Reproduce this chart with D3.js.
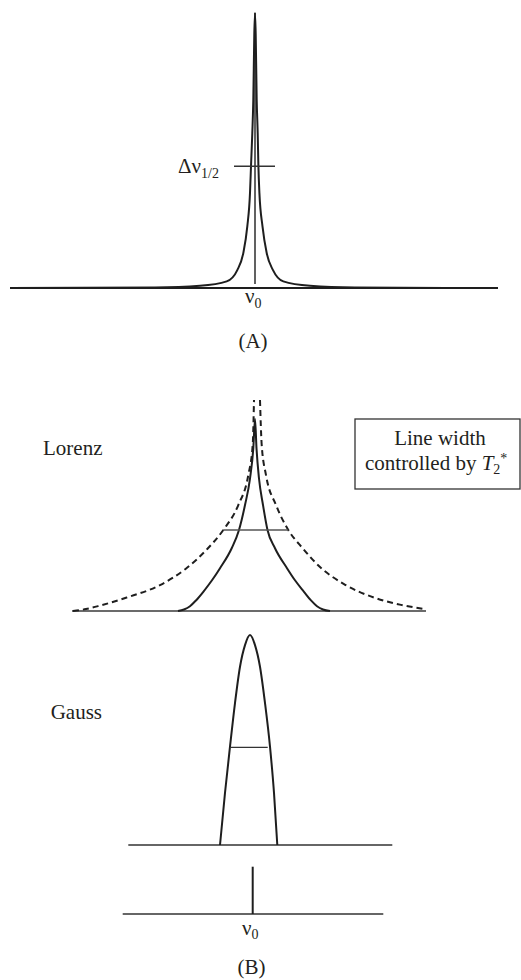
<!DOCTYPE html>
<html>
<head>
<meta charset="utf-8">
<script src="https://cdn.jsdelivr.net/npm/d3@7/dist/d3.min.js"></script>
<style>
  html, body { margin: 0; padding: 0; background: #fff; }
  svg { display: block; }
</style>
</head>
<body>
<script>
// (A) single narrow Lorentzian line: frequency offset from ν0, relative intensity
const narrowOffset    = [-245, -100, -55, -28.3, -17.7, -11.7, -7.7, -5, -4, -2.7, -1.7, -0.7, 0, 0.7, 1.7, 2.7, 3.4, 4.4, 7.5, 11.7, 18, 28.3, 55, 100, 243];
const narrowIntensity = [0, 0.002, 0.008, 0.024, 0.065, 0.127, 0.224, 0.346, 0.443, 0.563, 0.684, 0.924, 1, 0.924, 0.684, 0.563, 0.443, 0.346, 0.224, 0.127, 0.065, 0.024, 0.008, 0.002, 0];
const narrowHalfLevel = 0.443;
const narrowHalfSpan  = [-21, 20];
const narrowAxis      = [-245, 243];

// (B) Lorenz: narrow line (solid) and broadened line (dashed)
const lorenzOffset    = [-78, -72, -66, -60, -52.7, -44, -36, -24.3, -17, -11, -6, -2.7, -1, 0.5, 3, 7, 11.5, 19, 31, 39, 48, 55, 61, 67, 74];
const lorenzIntensity = [0, 0.008, 0.025, 0.055, 0.1, 0.16, 0.223, 0.327, 0.422, 0.552, 0.69, 0.847, 1, 0.847, 0.69, 0.552, 0.422, 0.327, 0.223, 0.16, 0.1, 0.055, 0.025, 0.008, 0];
const broadLeftOffset     = [-183, -170, -156, -129.3, -96, -69.3, -49.3, -32.7, -17.7, -7.7, -3.3, -2];
const broadLeftIntensity  = [0, 0.01, 0.028, 0.07, 0.135, 0.224, 0.32, 0.422, 0.552, 0.708, 0.865, 1.099];
const broadRightOffset    = [4, 5.7, 10, 20, 32.3, 47, 64, 88, 118, 145, 169];
const broadRightIntensity = [1.099, 0.865, 0.708, 0.552, 0.422, 0.325, 0.229, 0.14, 0.07, 0.032, 0.01];
const lorenzHalfLevel = 0.422;
const lorenzHalfSpan  = [-32.7, 32.3];
const lorenzAxis      = [-184, 170];

// (B) Gauss line
const gaussOffset    = [-30, -25, -20, -15, -10, -5, 0, 5, 10, 15, 20, 24, 27.3];
const gaussIntensity = [0, 0.248, 0.468, 0.676, 0.849, 0.952, 1, 0.952, 0.849, 0.676, 0.468, 0.248, 0];
const gaussHalfLevel = 0.465;
const gaussHalfSpan  = [-19.3, 17.7];
const gaussAxis      = [-121.7, 142.3];

// (B) bottom: single resonance frequency ν0
const stickOffset    = [0];
const stickIntensity = [1];
const stickAxis      = [-130, 130.6];

const W = 521, H = 980;
const ink = "#1e1e1e";
const serif = "'Liberation Serif', 'Times New Roman', Times, 'Noto Serif', 'DejaVu Serif', serif";

const svg = d3.select("body").append("svg")
  .attr("width", W).attr("height", H)
  .attr("viewBox", `0 0 ${W} ${H}`)
  .attr("font-family", serif);

function zip(xs, ys) { return xs.map((x, i) => [x, ys[i]]); }

function label(x, y, size) {
  return svg.append("text")
    .attr("x", x).attr("y", y)
    .attr("font-family", serif)
    .attr("font-size", size)
    .attr("fill", "#231f20");
}

// One spectrum panel: baseline axis plus scales
function panel(opts) {
  const x = d3.scaleLinear().domain(opts.axis).range(opts.xRange);
  const y = d3.scaleLinear().domain([0, 1]).range(opts.yRange);
  const g = svg.append("g");
  const line = d3.line().x(d => x(d[0])).y(d => y(d[1])).curve(d3.curveMonotoneX);

  g.append("line")
    .attr("x1", x(opts.axis[0])).attr("x2", x(opts.axis[1]))
    .attr("y1", y(0)).attr("y2", y(0))
    .attr("stroke", opts.axisColor || "#333").attr("stroke-width", opts.axisWidth || 1.6);
  return { g, x, y, line };
}

// ---- (A) ----
const pA = panel({ axis: narrowAxis, xRange: [10, 498], yRange: [288, 13], axisColor: ink, axisWidth: 2 });
pA.g.append("line")
  .attr("x1", pA.x(0)).attr("x2", pA.x(0))
  .attr("y1", pA.y(1)).attr("y2", pA.y(0.015))
  .attr("stroke", ink).attr("stroke-width", 1.4);
pA.g.append("path")
  .datum(zip(narrowOffset, narrowIntensity))
  .attr("d", pA.line).attr("fill", "none")
  .attr("stroke", ink).attr("stroke-width", 2);
pA.g.append("line")
  .attr("x1", pA.x(narrowHalfSpan[0])).attr("x2", pA.x(narrowHalfSpan[1]))
  .attr("y1", pA.y(narrowHalfLevel)).attr("y2", pA.y(narrowHalfLevel))
  .attr("stroke", "#333").attr("stroke-width", 1.4);

const dl = label(178, 172.5, 21);
dl.append("tspan").text("Δν");
dl.append("tspan").attr("dy", 5).attr("font-size", 14).text("1/2");

const n0a = label(245, 303, 21);
n0a.append("tspan").text("ν");
n0a.append("tspan").attr("dy", 4.5).attr("font-size", 14).text("0");

label(253, 348, 21).attr("text-anchor", "middle").text("(A)");

// ---- (B) Lorenz ----
const pL = panel({ axis: lorenzAxis, xRange: [72, 426], yRange: [611, 419], axisColor: "#3a3a3a", axisWidth: 1.6 });
pL.g.append("path")
  .datum(zip(lorenzOffset, lorenzIntensity))
  .attr("d", pL.line).attr("fill", "none")
  .attr("stroke", ink).attr("stroke-width", 2);
[[broadLeftOffset, broadLeftIntensity], [broadRightOffset, broadRightIntensity]].forEach(([xs, ys]) => {
  pL.g.append("path")
    .datum(zip(xs, ys))
    .attr("d", pL.line).attr("fill", "none")
    .attr("stroke", ink).attr("stroke-width", 2)
    .attr("stroke-dasharray", "6,4");
});
pL.g.append("line")
  .attr("x1", pL.x(lorenzHalfSpan[0])).attr("x2", pL.x(lorenzHalfSpan[1]))
  .attr("y1", pL.y(lorenzHalfLevel)).attr("y2", pL.y(lorenzHalfLevel))
  .attr("stroke", "#555").attr("stroke-width", 1.5);

label(43, 455, 21).text("Lorenz");

// T2* note
svg.append("rect").attr("x", 355).attr("y", 419).attr("width", 165).attr("height", 70)
  .attr("fill", "none").attr("stroke", "#333").attr("stroke-width", 1.3);
label(440, 445, 21).attr("text-anchor", "middle").text("Line width");
const ct = label(365, 470, 21);
ct.append("tspan").text("controlled by ");
ct.append("tspan").attr("font-style", "italic").text("T");
ct.append("tspan").attr("dy", 4).attr("font-size", 14).text("2");
ct.append("tspan").attr("dy", -11).attr("font-size", 14).text("*");

// ---- (B) Gauss ----
const pG = panel({ axis: gaussAxis, xRange: [128.3, 392.3], yRange: [845, 635], axisColor: "#333", axisWidth: 1.6 });
pG.g.append("path")
  .datum(zip(gaussOffset, gaussIntensity))
  .attr("d", pG.line).attr("fill", "none")
  .attr("stroke", ink).attr("stroke-width", 2);
pG.g.append("line")
  .attr("x1", pG.x(gaussHalfSpan[0])).attr("x2", pG.x(gaussHalfSpan[1]))
  .attr("y1", pG.y(gaussHalfLevel)).attr("y2", pG.y(gaussHalfLevel))
  .attr("stroke", "#333").attr("stroke-width", 1.4);

label(50.7, 719, 21).text("Gauss");

// ---- (B) resonance position ----
const pS = panel({ axis: stickAxis, xRange: [122.7, 383.3], yRange: [914, 866.7], axisColor: "#333", axisWidth: 1.6 });
pS.g.selectAll("line.stick")
  .data(zip(stickOffset, stickIntensity))
  .join("line").attr("class", "stick")
  .attr("x1", d => pS.x(d[0])).attr("x2", d => pS.x(d[0]))
  .attr("y1", d => pS.y(d[1])).attr("y2", pS.y(0))
  .attr("stroke", ink).attr("stroke-width", 2);

const n0b = label(242, 935, 21);
n0b.append("tspan").text("ν");
n0b.append("tspan").attr("dy", 4).attr("font-size", 14).text("0");

label(251.5, 974, 21).attr("text-anchor", "middle").text("(B)");
</script>
</body>
</html>
